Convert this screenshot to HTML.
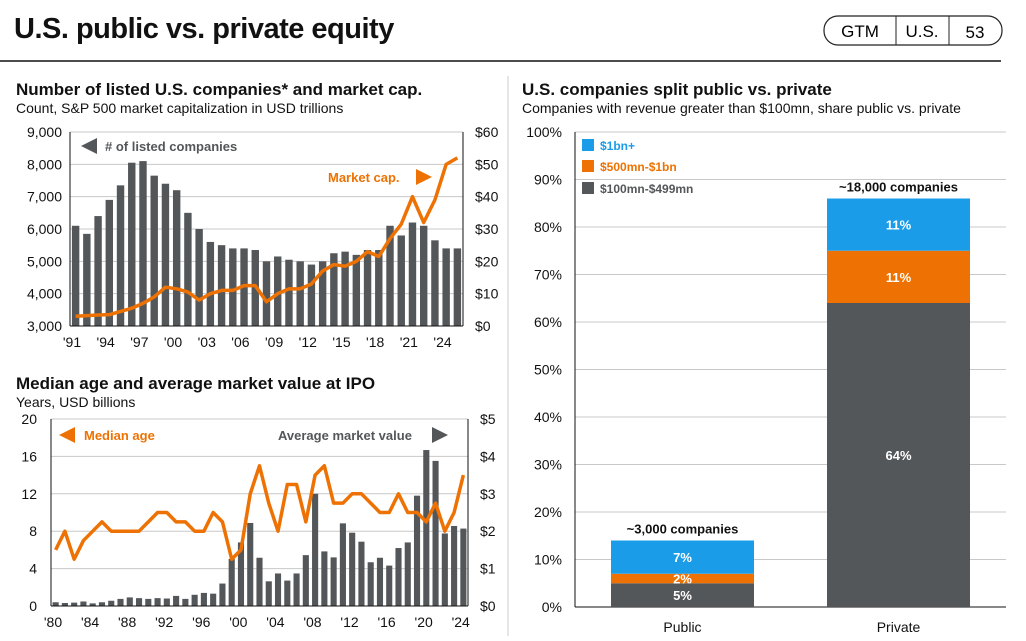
<!DOCTYPE html>
<html><head><meta charset="utf-8"><style>
body{margin:0;background:#fff;width:1026px;height:641px;overflow:hidden;font-family:"Liberation Sans",Arial,sans-serif}
svg{position:absolute;left:0;top:0}
</style></head><body>
<svg id="s" width="1026" height="641" xmlns="http://www.w3.org/2000/svg" font-family="Liberation Sans, Arial, sans-serif">
<text x="14" y="38" font-size="29" font-weight="bold" fill="#111" letter-spacing="-0.5">U.S. public vs. private equity</text>
<g>
<rect x="824" y="16" width="178" height="29" rx="14" fill="#fff" stroke="#222" stroke-width="1.2"/>
<line x1="896" y1="16" x2="896" y2="45" stroke="#222"/><line x1="949" y1="16" x2="949" y2="45" stroke="#222"/>
<text x="860" y="37" font-size="17" text-anchor="middle">GTM</text>
<text x="922" y="37" font-size="17" text-anchor="middle">U.S.</text>
<text x="975" y="38" font-size="17" text-anchor="middle">53</text>
</g>
<line x1="0" y1="61" x2="1001" y2="61" stroke="#111" stroke-width="1.5"/>
<line x1="508" y1="76" x2="508" y2="636" stroke="#ccc"/>
<text x="16" y="95" font-size="17" font-weight="bold" fill="#111">Number of listed U.S. companies* and market cap.</text>
<text x="16" y="113" font-size="14" fill="#111">Count, S&amp;P 500 market capitalization in USD trillions</text>
<text x="16" y="389" font-size="17" font-weight="bold" fill="#111">Median age and average market value at IPO</text>
<text x="16" y="407" font-size="14" fill="#111">Years, USD billions</text>
<text x="522" y="95" font-size="17" font-weight="bold" fill="#111">U.S. companies split public vs. private</text>
<text x="522" y="113" font-size="14" fill="#111">Companies with revenue greater than $100mn, share public vs. private</text>
<g id="c1"></g><g id="c2"></g><g id="c3"></g>
</svg>
<script>
const years1=[1991,1992,1993,1994,1995,1996,1997,1998,1999,2000,2001,2002,2003,2004,2005,2006,2007,2008,2009,2010,2011,2012,2013,2014,2015,2016,2017,2018,2019,2020,2021,2022,2023,2024,2025];
const listed=[6100,5850,6400,6900,7350,8050,8100,7650,7400,7200,6500,6000,5600,5500,5400,5400,5350,5000,5150,5050,5000,4900,5000,5250,5300,5200,5350,5350,6100,5800,6200,6100,5650,5400,5400];
const mktcap=[3,3.2,3.4,3.5,4.5,5.5,7,9,12,11.5,10.5,8,10,11,11,12.5,12.5,7.5,10,11.5,11.5,13,17,19,18.5,20,23,21.5,27,31.5,40,32,39,50,52];
const ticksL1=[3000,4000,5000,6000,7000,8000,9000];
const ticksR1=[0,10,20,30,40,50,60];
const xlab1=["'91","'94","'97","'00","'03","'06","'09","'12","'15","'18","'21","'24"];

const years2=[];for(let y=1980;y<=2024;y++)years2.push(y);
const avgValue=[0.1,0.08,0.09,0.12,0.07,0.1,0.14,0.19,0.23,0.21,0.19,0.21,0.2,0.27,0.19,0.3,0.35,0.33,0.6,1.26,1.7,2.22,1.29,0.66,0.87,0.68,0.87,1.36,3.0,1.46,1.3,2.21,1.96,1.72,1.17,1.29,1.08,1.55,1.7,2.95,4.17,3.88,1.94,2.14,2.07];
const medianAge=[6,8,5,7,8,9,8,8,8,8,9,10,10,9,9,8,8,10,9,5,6,12,15,11,8,13,13,9,14,15,11,11,12,12,11,10,10,12,10,10,9,11,8,10,14];
const ticksL2=[0,4,8,12,16,20];
const ticksR2=[0,1,2,3,4,5];
const xlab2=["'80","'84","'88","'92","'96","'00","'04","'08","'12","'16","'20","'24"];

const groups=["Public","Private"];
const seg100=[5,64];const seg500=[2,11];const seg1bn=[7,11];
const totals=["~3,000 companies","~18,000 companies"];
const ticks3=[0,10,20,30,40,50,60,70,80,90,100];

const NS="http://www.w3.org/2000/svg";
function mk(p,t,a,txt){const e=document.createElementNS(NS,t);for(const k in a)e.setAttribute(k,a[k]);if(txt!==undefined)e.textContent=txt;p.appendChild(e);return e;}
const DK="#54575a",OR="#ee7203",BL="#1b9ce8";

// chart 1
(function(){
const g=document.getElementById('c1');
const x0=70,x1=463,yT=132,yB=326;
const n=years1.length,bw=(x1-x0)/n;
const xc=i=>x0+bw*(i+0.5);
const yL=v=>yB-(v-3000)/6000*(yB-yT);
const yR=v=>yB-v/60*(yB-yT);
ticksL1.forEach(t=>{if(t>3000){const l=mk(g,'line',{x1:x0,x2:x1,y1:yL(t),y2:yL(t),stroke:'#c8c8c8'});}
const e=mk(g,'text',{x:x0-8,y:yL(t)+5,'font-size':14,'text-anchor':'end',fill:'#111'},t.toLocaleString('en-US'));});
ticksR1.forEach(t=>{const e=mk(g,'text',{x:x1+12,y:yR(t)+5,'font-size':14,fill:'#111'},'$'+t);});
listed.forEach((v,i)=>{const r=mk(g,'rect',{x:xc(i)-bw*0.33,width:bw*0.66,y:yL(v),height:yB-yL(v),fill:DK});});
mk(g,'line',{x1:x0,x2:x0,y1:yT,y2:yB,stroke:'#111'});
mk(g,'line',{x1:x1,x2:x1,y1:yT,y2:yB,stroke:'#111'});
mk(g,'line',{x1:x0,x2:x1,y1:yB,y2:yB,stroke:'#111'});
const ln=mk(g,'polyline',{points:mktcap.map((v,i)=>xc(i)+','+yR(v)).join(' '),fill:'none',stroke:OR,'stroke-width':3.5,'stroke-linejoin':'round'});

xlab1.forEach((l,k)=>{const i=k*3;const e=mk(g,'text',{x:x0+bw*i+2,y:yB+21,'font-size':14,'text-anchor':'middle',fill:'#111'},l);});
mk(g,'polygon',{points:'81,146 97,138 97,154',fill:DK});
const a=mk(g,'text',{x:105,y:151,'font-size':13,'font-weight':'bold',fill:DK},'# of listed companies');
const b=mk(g,'text',{x:328,y:182,'font-size':13,'font-weight':'bold',fill:OR},'Market cap.');
mk(g,'polygon',{points:'416,169 432,177 416,185',fill:OR});
})();

// chart 2
(function(){
const g=document.getElementById('c2');
const x0=51,x1=468,yT=419,yB=606;
const n=years2.length,bw=(x1-x0)/n;
const xc=i=>x0+bw*(i+0.5);
const yL=v=>yB-v/20*(yB-yT);
const yR=v=>yB-v/5*(yB-yT);
ticksL2.forEach(t=>{if(t>0){const l=mk(g,'line',{x1:x0,x2:x1,y1:yL(t),y2:yL(t),stroke:'#c8c8c8'});}
const e=mk(g,'text',{x:x0-14,y:yL(t)+5,'font-size':14,'text-anchor':'end',fill:'#111'},t);});
ticksR2.forEach(t=>{const e=mk(g,'text',{x:x1+12,y:yR(t)+5,'font-size':14,fill:'#111'},'$'+t);});
avgValue.forEach((v,i)=>{const r=mk(g,'rect',{x:xc(i)-bw*0.33,width:bw*0.66,y:yR(v),height:yB-yR(v),fill:DK});});
mk(g,'line',{x1:x0,x2:x0,y1:yT,y2:yB,stroke:'#111'});
mk(g,'line',{x1:x1,x2:x1,y1:yT,y2:yB,stroke:'#111'});
mk(g,'line',{x1:x0,x2:x1,y1:yB,y2:yB,stroke:'#111'});
const ln=mk(g,'polyline',{points:medianAge.map((v,i)=>xc(i)+','+yL(v)).join(' '),fill:'none',stroke:OR,'stroke-width':3.5,'stroke-linejoin':'round'});

xlab2.forEach((l,k)=>{const i=k*4;const e=mk(g,'text',{x:x0+bw*i+2,y:yB+21,'font-size':14,'text-anchor':'middle',fill:'#111'},l);});
mk(g,'polygon',{points:'59,435 75,427 75,443',fill:OR});
const a=mk(g,'text',{x:84,y:440,'font-size':13,'font-weight':'bold',fill:OR},'Median age');
const b=mk(g,'text',{x:278,y:440,'font-size':13,'font-weight':'bold',fill:DK},'Average market value');
mk(g,'polygon',{points:'432,427 448,435 432,443',fill:DK});
})();

// chart 3
(function(){
const g=document.getElementById('c3');
const x0=575,x1=1006,yT=132,yB=607;
const y=v=>yB-v/100*(yB-yT);
ticks3.forEach(t=>{if(t>0){const l=mk(g,'line',{x1:x0,x2:x1,y1:y(t),y2:y(t),stroke:'#c8c8c8'});}
const e=mk(g,'text',{x:x0-13,y:y(t)+5,'font-size':14,'text-anchor':'end',fill:'#111'},t+'%');});
mk(g,'line',{x1:x0,x2:x0,y1:yT,y2:yB,stroke:'#111'});
mk(g,'line',{x1:x0,x2:x1,y1:yB,y2:yB,stroke:'#111'});
const cx=[682.5,898.5],bw=143;
groups.forEach((grp,i)=>{
 const segs=[[seg100[i],DK,'100mn-499mn'],[seg500[i],OR,'500mn-1bn'],[seg1bn[i],BL,'1bn-plus']];
 let base=0;
 segs.forEach(s=>{const r=mk(g,'rect',{x:cx[i]-bw/2,width:bw,y:y(base+s[0]),height:y(base)-y(base+s[0]),fill:s[1]});
  
  const t=mk(g,'text',{x:cx[i],y:(y(base)+y(base+s[0]))/2+5,'font-size':13,'font-weight':'bold','text-anchor':'middle',fill:'#fff'},s[0]+'%');
  
  base+=s[0];});
 const tt=mk(g,'text',{x:cx[i],y:y(base)-7,'font-size':13,'font-weight':'bold','text-anchor':'middle',fill:'#111'},totals[i]);
 
 const xl=mk(g,'text',{x:cx[i],y:yB+25,'font-size':14,'text-anchor':'middle',fill:'#111'},grp);
 
});
[['$1bn+',BL,145],['$500mn-$1bn',OR,166],['$100mn-$499mn',DK,188]].forEach(l=>{
 const r=mk(g,'rect',{x:582,y:l[2]-6,width:12,height:12,fill:l[1]});
 const t=mk(g,'text',{x:600,y:l[2]+5,'font-size':12,'font-weight':'bold',fill:l[1]===DK?DK:l[1]},l[0]);
});
})();
</script>
</body></html>
